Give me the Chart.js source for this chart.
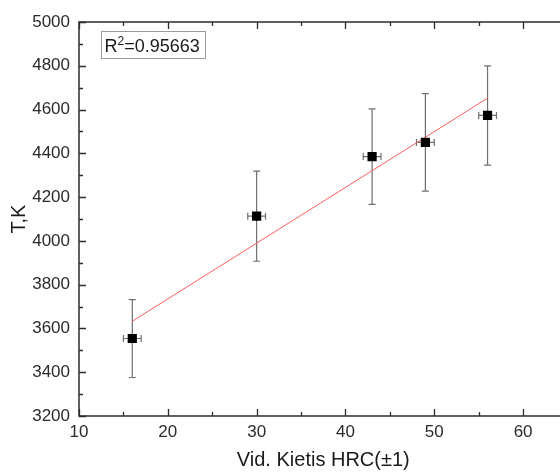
<!DOCTYPE html>
<html>
<head>
<meta charset="utf-8">
<script src="https://cdn.jsdelivr.net/npm/chart.js@4/dist/chart.umd.min.js"></script>
<style>
html,body{margin:0;padding:0;overflow:hidden;background:#fff;width:560px;height:473px;}
#wrap{position:absolute;left:0;top:0;width:574px;height:473px;}
</style>
</head>
<body>
<div id="wrap"><canvas id="c" width="574" height="473"></canvas></div>
<script>
// ---- data ----
const hardness = [16, 30, 43, 49, 56];          // Vid. Kietis HRC
const temperature = [3554, 4113, 4385, 4450, 4573]; // T, K
const tempErr = [178, 206, 218, 223, 227];       // ± K
const hardErr = [1, 1, 1, 1, 1];                 // ± HRC
const fitX = [16, 56];
const fitY = [3633, 4652];
const xTicks = [10, 20, 30, 40, 50, 60];
const xMinorTicks = [15, 25, 35, 45, 55, 65];
const yTicks = [3200, 3400, 3600, 3800, 4000, 4200, 4400, 4600, 4800, 5000];
const yMinorTicks = [3300, 3500, 3700, 3900, 4100, 4300, 4500, 4700, 4900];
const r2Label = "0.95663";

const points = hardness.map((x, i) => ({x: x, y: temperature[i]}));
const fitLine = fitX.map((x, i) => ({x: x, y: fitY[i]}));

const errorBars = {
  id: 'errorBars',
  beforeDatasetsDraw(chart) {
    const {ctx, scales: {x, y}} = chart;
    ctx.save();
    ctx.strokeStyle = '#6f6f6f';
    ctx.lineWidth = 1.2;
    const cap = 3.5;
    hardness.forEach((hx, i) => {
      const px = x.getPixelForValue(hx);
      const py = y.getPixelForValue(temperature[i]);
      const top = y.getPixelForValue(temperature[i] + tempErr[i]);
      const bot = y.getPixelForValue(temperature[i] - tempErr[i]);
      const l = x.getPixelForValue(hx - hardErr[i]);
      const r = x.getPixelForValue(hx + hardErr[i]);
      ctx.beginPath();
      ctx.moveTo(px, top); ctx.lineTo(px, bot);
      ctx.moveTo(px - cap, top); ctx.lineTo(px + cap, top);
      ctx.moveTo(px - cap, bot); ctx.lineTo(px + cap, bot);
      ctx.moveTo(l, py); ctx.lineTo(r, py);
      ctx.moveTo(l, py - cap); ctx.lineTo(l, py + cap);
      ctx.moveTo(r, py - cap); ctx.lineTo(r, py + cap);
      ctx.stroke();
    });
    ctx.restore();
  }
};

const frame = {
  id: 'frame',
  afterDraw(chart) {
    const {ctx, chartArea: a, scales: {x, y}} = chart;
    ctx.save();
    ctx.strokeStyle = '#2b2b2b';
    ctx.lineWidth = 1.5;
    ctx.beginPath();
    ctx.rect(a.left, a.top, a.right - a.left, a.bottom - a.top);
    ctx.stroke();
    ctx.lineWidth = 1.3;
    ctx.beginPath();
    const tx = (vals, len) => vals.forEach(v => {
      const p = Math.round(x.getPixelForValue(v)) + 0.5;
      ctx.moveTo(p, a.bottom); ctx.lineTo(p, a.bottom - len);
      ctx.moveTo(p, a.top); ctx.lineTo(p, a.top + len);
    });
    const ty = (vals, len) => vals.forEach(v => {
      const p = Math.round(y.getPixelForValue(v)) + 0.5;
      ctx.moveTo(a.left, p); ctx.lineTo(a.left + len, p);
      ctx.moveTo(a.right, p); ctx.lineTo(a.right - len, p);
    });
    tx(xTicks, 7); tx(xMinorTicks, 4);
    ty(yTicks, 7); ty(yMinorTicks, 4);
    ctx.stroke();

    // R^2 box
    const bx = 101.5, by = 31.5, bw = 104, bh = 27;
    ctx.fillStyle = '#fff';
    ctx.fillRect(bx, by, bw, bh);
    ctx.strokeStyle = '#9a9a9a';
    ctx.lineWidth = 1;
    ctx.strokeRect(bx, by, bw, bh);
    ctx.fillStyle = '#1a1a1a';
    ctx.textBaseline = 'alphabetic';
    ctx.font = '18px "Liberation Sans", Arial, sans-serif';
    let cx = bx + 3;
    const base = by + 20.5;
    ctx.fillText('R', cx, base);
    cx += ctx.measureText('R').width;
    ctx.font = '12px "Liberation Sans", Arial, sans-serif';
    ctx.fillText('2', cx, base - 7);
    cx += ctx.measureText('2').width;
    ctx.font = '18px "Liberation Sans", Arial, sans-serif';
    ctx.fillText('=' + r2Label, cx, base);
    ctx.restore();
  }
};

new Chart(document.getElementById('c'), {
  type: 'scatter',
  data: {
    datasets: [
      {
        label: 'data',
        data: points,
        pointStyle: 'rect',
        pointRadius: 6.5,
        pointHoverRadius: 6.5,
        backgroundColor: '#000',
        borderColor: '#000',
        borderWidth: 0
      },
      {
        label: 'fit',
        data: fitLine,
        showLine: true,
        pointRadius: 0,
        borderColor: '#ff5c5c',
        borderWidth: 1,
        fill: false
      }
    ]
  },
  options: {
    responsive: false,
    animation: false,
    events: [],
    layout: {padding: {top: 22, right: 3, left: 0, bottom: 0}},
    plugins: {legend: {display: false}, tooltip: {enabled: false}},
    scales: {
      x: {
        type: 'linear',
        min: 10, max: 65,
        afterBuildTicks: s => { s.ticks = xTicks.map(v => ({value: v})); },
        afterFit: s => { s.height = 57; },
        grid: {display: false, drawTicks: false},
        border: {display: false},
        ticks: {
          padding: 6,
          color: '#2b2b2b',
          font: {family: '"Liberation Sans", Arial, sans-serif', size: 17},
          maxRotation: 0,
          callback: v => String(v)
        },
        title: {
          display: true,
          text: 'Vid. Kietis HRC(±1)',
          color: '#1a1a1a',
          font: {family: '"Liberation Sans", Arial, sans-serif', size: 20},
          padding: {top: 0, bottom: 1}
        }
      },
      y: {
        type: 'linear',
        min: 3200, max: 5000,
        afterBuildTicks: s => { s.ticks = yTicks.map(v => ({value: v})); },
        afterFit: s => { s.width = 79; },
        grid: {display: false, drawTicks: false},
        border: {display: false},
        ticks: {
          padding: 9,
          color: '#2b2b2b',
          font: {family: '"Liberation Sans", Arial, sans-serif', size: 17},
          callback: v => String(v)
        },
        title: {
          display: true,
          text: 'T,K',
          color: '#1a1a1a',
          font: {family: '"Liberation Sans", Arial, sans-serif', size: 20},
          padding: {top: 7, bottom: 0}
        }
      }
    }
  },
  plugins: [errorBars, frame]
});
</script>
</body>
</html>
